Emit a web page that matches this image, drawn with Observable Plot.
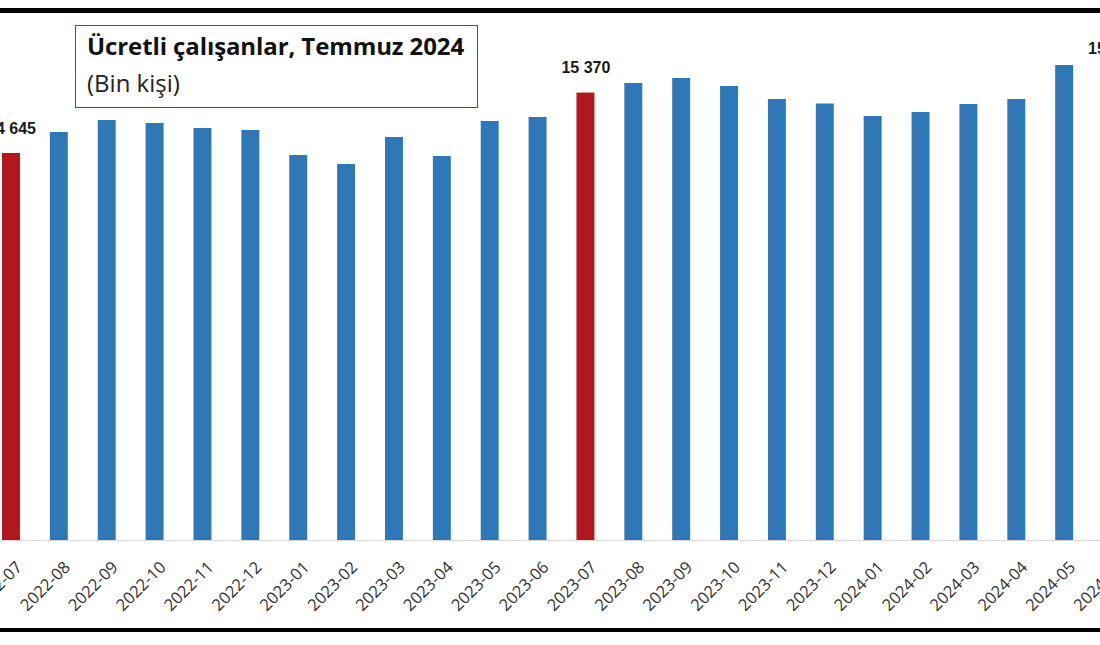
<!DOCTYPE html>
<html>
<head>
<meta charset="utf-8">
<script src="https://cdn.jsdelivr.net/npm/d3@7"></script>
<script src="https://cdn.jsdelivr.net/npm/@observablehq/plot@0.6"></script>
<style>
  html, body { margin: 0; padding: 0; background: #fff; }
  #page { position: relative; width: 1100px; height: 645px; overflow: hidden; background: #fff; }
  #chart { position: absolute; left: 0; top: 0; width: 1200px; }
  #chart svg { max-width: none !important; }
  .rule-top { position: absolute; left: 0; width: 1100px; top: 8px; height: 5px; background: #000; }
  .rule-bottom { position: absolute; left: 0; width: 1100px; top: 628px; height: 4px; background: #000; }
  #titlebox { position: absolute; left: 75px; top: 25px; width: 403px; height: 83px; box-sizing: border-box;
    border: 1.5px solid #a0303c; background: #fff; padding: 3px 0 0 11px; font-family: "Open Sans", sans-serif; color: #111; }
  #titlebox .t { font-weight: 700; font-size: 24px; line-height: 34px; letter-spacing: -0.1px; }
  #titlebox .s { font-weight: 400; font-size: 24px; line-height: 40px; color: #222; }
</style>
</head>
<body>
<div id="page">
  <div id="chart"></div>
  <div class="rule-top"></div>
  <div class="rule-bottom"></div>
  <div id="titlebox"><div class="t">Ücretli çalışanlar, Temmuz 2024</div><div class="s">(Bin kişi)</div></div>
</div>
<script>
const months = ["2022-07","2022-08","2022-09","2022-10","2022-11","2022-12",
  "2023-01","2023-02","2023-03","2023-04","2023-05","2023-06","2023-07","2023-08",
  "2023-09","2023-10","2023-11","2023-12","2024-01","2024-02","2024-03","2024-04",
  "2024-05","2024-06"];
const values = [14645,14897,15041,15005,14945,14921,14621,14513,14837,14609,15029,15077,
  15370,15485,15545,15449,15293,15239,15089,15137,15233,15293,15701,15605];
const highlighted = ["2022-07","2023-07","2024-06"];

const data = months.map((m, i) => ({month: m, value: values[i], hl: highlighted.includes(m)}));
const fmt = v => d3.format(",")(v).replace(/,/g, " ");

const chart = Plot.plot({
  width: 1200,
  height: 645,
  marginTop: 40,
  marginBottom: 105,
  marginLeft: 0,
  marginRight: 0,
  style: {background: "transparent", overflow: "visible", maxWidth: "none"},
  x: {domain: months, range: [2, 1121], paddingInner: 0.625, paddingOuter: 0, align: 0.5, round: false},
  y: {domain: [10000, 16000], range: [540, 40.1], axis: null},
  marks: [
    Plot.barY(data, {x: "month", y1: 10000, y2: "value", fill: d => d.hl ? "#b0181d" : "#2f78b8"}),
    Plot.ruleY([10000], {stroke: "#d9d9d9", strokeWidth: 1.2}),
    Plot.text(data.filter(d => d.hl), {x: "month", y: "value", text: d => fmt(d.value), dy: -25,
      fontSize: 16, fontWeight: "bold", fontFamily: "Liberation Sans, Arial, sans-serif", fill: "#1a1a1a"}),
    Plot.axisX({tickSize: 0, tickPadding: 0, tickRotate: -45, fontSize: 16.5, dx: 8, dy: 24,
      fontFamily: "Open Sans, sans-serif", fill: "#333", label: null})
  ]
});
document.getElementById("chart").appendChild(chart);
</script>
</body>
</html>
